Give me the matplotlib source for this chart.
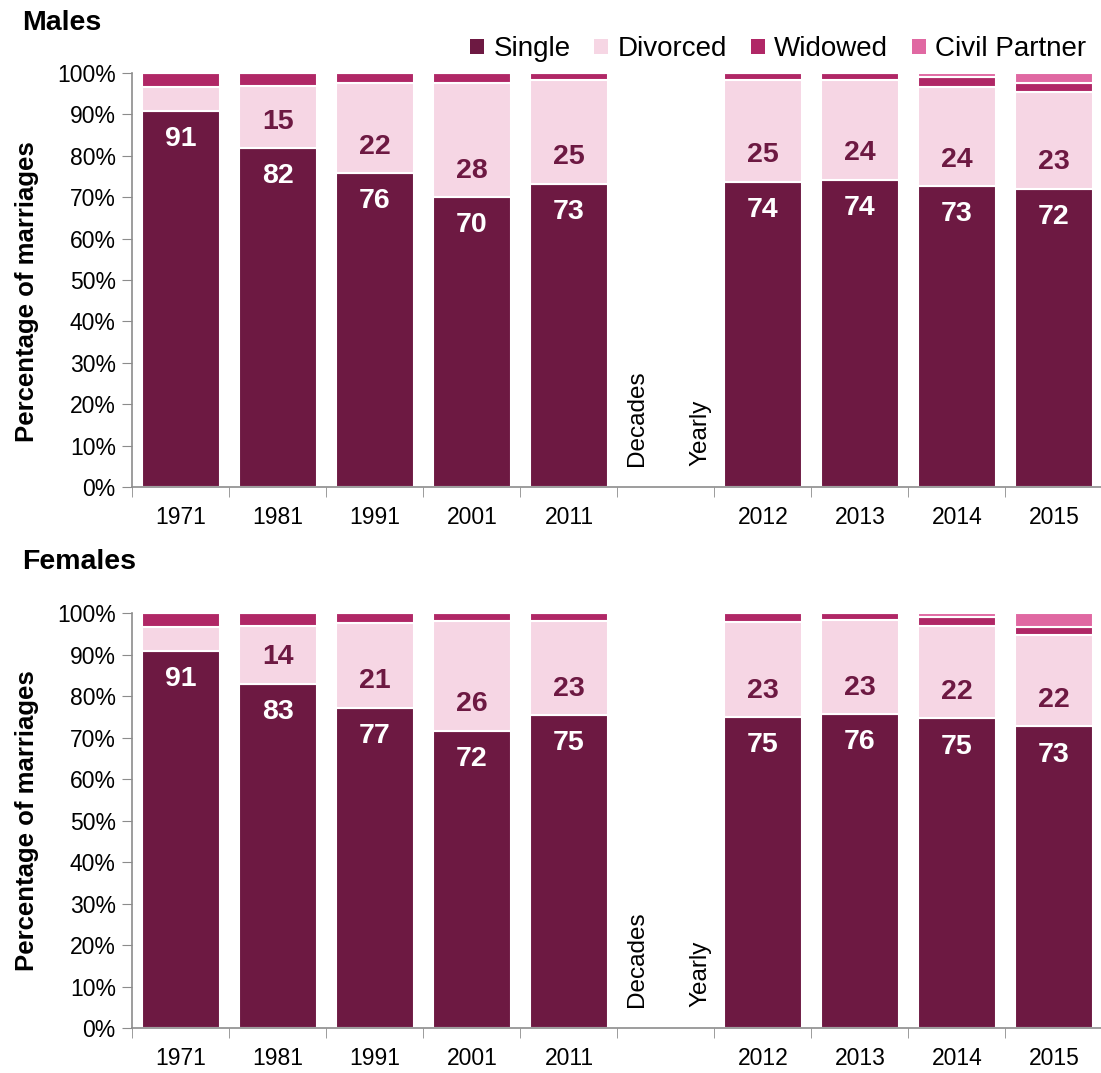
import matplotlib.pyplot as plt
from matplotlib.patches import Patch

plt.rcParams['font.family'] = ['Liberation Sans', 'DejaVu Sans']

# slot 5 is left empty: it separates decades from yearly figures
years = ["1971", "1981", "1991", "2001", "2011", "", "2012", "2013", "2014", "2015"]

male_single = [90.8, 81.8, 75.8, 70.0, 73.2, 0, 73.7, 74.2, 72.7, 72.0]
male_divorced = [5.8, 15.0, 21.7, 27.6, 25.1, 0, 24.6, 24.1, 24.0, 23.3]
male_widowed = [3.4, 3.2, 2.5, 2.4, 1.7, 0, 1.7, 1.7, 2.3, 2.3]
male_civil = [0, 0, 0, 0, 0, 0, 0, 0, 1.0, 2.4]

female_single = [90.8, 82.9, 77.1, 71.6, 75.4, 0, 74.9, 75.6, 74.6, 72.7]
female_divorced = [5.8, 14.0, 20.6, 26.4, 22.6, 0, 23.0, 22.7, 22.3, 22.0]
female_widowed = [3.4, 3.1, 2.3, 2.0, 2.0, 0, 2.1, 1.7, 2.2, 1.9]
female_civil = [0, 0, 0, 0, 0, 0, 0, 0, 0.9, 3.4]

series_names = ["Single", "Divorced", "Widowed", "Civil Partner"]
colors = ["#6d1942", "#f6d6e4", "#b02766", "#e068a2"]
dark = "#6d1942"
axis_grey = "#8c8c8c"


def draw_panel(ax, single, divorced, widowed, civil, label_y):
    x = range(len(years))
    bottom = [0] * len(years)
    for vals, col in zip([single, divorced, widowed, civil], colors):
        ax.bar(x, vals, width=0.8, bottom=bottom, color=col,
               edgecolor="white", linewidth=1.5)
        bottom = [b + v for b, v in zip(bottom, vals)]

    for i in x:
        if years[i] == "":
            continue
        ax.text(i, single[i] - 6.8, str(round(single[i])), ha="center", va="center",
                color="white", fontsize=20.5, fontweight="bold")
        if i > 0:
            ax.text(i, single[i] + 6.4, str(round(divorced[i])),
                    ha="center", va="center", color=dark, fontsize=20.5,
                    fontweight="bold")

    ax.text(4.7, 5, "Decades", rotation=90, ha="center", va="bottom", fontsize=17.5)
    ax.text(5.36, 5, "Yearly", rotation=90, ha="center", va="bottom", fontsize=17.5)

    ax.set_xlim(-0.5, 9.5)
    ax.set_ylim(0, 100)
    ax.set_yticks(range(0, 101, 10))
    ax.set_yticklabels([f"{v}%" for v in range(0, 101, 10)])
    ax.set_xticks(list(x))
    ax.set_xticklabels(years)
    ax.set_xticks([i - 0.5 for i in range(len(years) + 1)], minor=True)
    ax.tick_params(axis="x", which="major", length=0, pad=14, labelsize=16.5)
    ax.tick_params(axis="x", which="minor", length=7, color=axis_grey, direction="out")
    ax.tick_params(axis="y", length=7, color=axis_grey, labelsize=16.5, pad=5)
    for s in ["top", "right"]:
        ax.spines[s].set_visible(False)
    for s in ["left", "bottom"]:
        ax.spines[s].set_color(axis_grey)
        ax.spines[s].set_linewidth(1.2)
    ax.set_ylabel("Percentage of marriages", fontsize=18.5, fontweight="bold")
    ax.yaxis.set_label_coords(-0.096, label_y)


fig = plt.figure(figsize=(11.01, 10.73), dpi=100)
ax1 = fig.add_axes([0.1203, 0.5461, 0.881, 0.3859])
ax2 = fig.add_axes([0.1203, 0.0419, 0.881, 0.3868])

draw_panel(ax1, male_single, male_divorced, male_widowed, male_civil, 0.473)
draw_panel(ax2, female_single, female_divorced, female_widowed, female_civil, 0.499)

fig.text(0.02, 0.979, "Males", fontsize=20.5, fontweight="bold", va="center")
fig.text(0.02, 0.476, "Females", fontsize=20.5, fontweight="bold", va="center")

handles = [Patch(facecolor=c, edgecolor="none") for c in colors]
fig.legend(handles, series_names, ncol=4, frameon=False, fontsize=20,
           loc="center right", bbox_to_anchor=(0.997, 0.954),
           handlelength=0.5, handleheight=0.5, handletextpad=0.35,
           columnspacing=0.85, borderaxespad=0.0)

fig.savefig("out.png", dpi=100)
